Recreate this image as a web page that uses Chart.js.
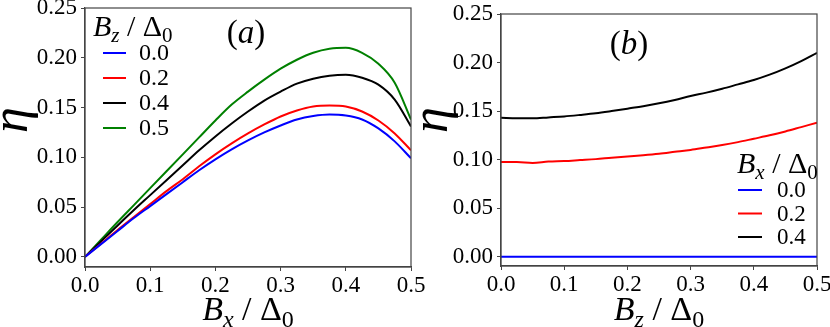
<!DOCTYPE html>
<html>
<head>
<meta charset="utf-8">
<script src="https://cdn.jsdelivr.net/npm/chart.js@4.4.1/dist/chart.umd.min.js"></script>
<style>
  html, body { margin: 0; padding: 0; background: #fff; }
  #wrap { position: relative; width: 830px; height: 327px; overflow: hidden; }
  canvas { position: absolute; top: 0; }
  #chartA { left: 0; }
  #chartB { left: 420px; }
  .pre { position: absolute; left: -999px; top: 0; font-family: "Liberation Serif"; font-size: 20px; }
</style>
</head>
<body>
<div id="wrap">
  <canvas id="chartA" width="440" height="327"></canvas>
  <canvas id="chartB" width="410" height="327"></canvas>
</div>
<span class="pre">0.25 Bx Δ</span><span class="pre" style="font-style:italic">η Bz (a)</span>
<script>
// eixos
const xTicks = [0, 0.1, 0.2, 0.3, 0.4, 0.5];
const yTicks = [0, 0.05, 0.10, 0.15, 0.20, 0.25];

// painel (a): eta vs Bx/Delta0, uma curva por Bz/Delta0
const bxA = [0, 0.025, 0.05, 0.075, 0.1, 0.125, 0.15, 0.175, 0.2, 0.225, 0.25,
             0.275, 0.3, 0.325, 0.35, 0.375, 0.4, 0.425, 0.45, 0.475, 0.5];
const rotulosA = ['0.0', '0.2', '0.4', '0.5'];
const etaA00 = [0, 0.013, 0.026, 0.039, 0.051, 0.063, 0.075, 0.087, 0.098, 0.108, 0.117,
                0.125, 0.132, 0.138, 0.1415, 0.143, 0.142, 0.138, 0.129, 0.116, 0.099];
const etaA02 = [0, 0.0135, 0.027, 0.040, 0.053, 0.066, 0.078, 0.091, 0.103, 0.114, 0.124,
                0.133, 0.141, 0.147, 0.151, 0.152, 0.151, 0.146, 0.137, 0.124, 0.107];
const etaA04 = [0, 0.0158, 0.0315, 0.047, 0.062, 0.077, 0.092, 0.107, 0.121, 0.134, 0.146,
                0.157, 0.166, 0.174, 0.179, 0.182, 0.183, 0.180, 0.173, 0.158, 0.131];
const etaA05 = [0, 0.0175, 0.035, 0.052, 0.069, 0.086, 0.103, 0.120, 0.137, 0.153, 0.166,
                0.178, 0.189, 0.198, 0.205, 0.209, 0.210, 0.205, 0.194, 0.175, 0.138];

// painel (b): eta vs Bz/Delta0, uma curva por Bx/Delta0
const bzB = [0, 0.025, 0.05, 0.075, 0.1, 0.125, 0.15, 0.175, 0.2, 0.225, 0.25,
             0.275, 0.3, 0.325, 0.35, 0.375, 0.4, 0.425, 0.45, 0.475, 0.5];
const rotulosB = ['0.0', '0.2', '0.4'];
const etaB00 = [0, 0, 0, 0, 0, 0, 0, 0, 0, 0, 0, 0, 0, 0, 0, 0, 0, 0, 0, 0, 0];
const etaB02 = [0.0975, 0.0975, 0.0965, 0.098, 0.0985, 0.0995, 0.1005, 0.102, 0.1033, 0.1045, 0.106,
                0.108, 0.110, 0.1125, 0.115, 0.118, 0.1215, 0.125, 0.129, 0.1335, 0.138];
const etaB04 = [0.143, 0.1425, 0.1425, 0.1435, 0.1445, 0.146, 0.1477, 0.150, 0.1525, 0.155, 0.158,
                0.1615, 0.1655, 0.169, 0.173, 0.1775, 0.182, 0.1875, 0.194, 0.2015, 0.210];

const cores = ['#0000ff', '#ff0000', '#000000', '#008000'];
const FONTE = '"Liberation Serif", serif';

// texto com subscritos: itens [texto, italico, subscrito]
function desenharMat(ctx, itens, x, y, tam, alinhar) {
    const fonte = it => `${it[1] ? 'italic ' : ''}${it[2] ? Math.round(tam * 0.7) : tam}px ${FONTE}`;
    let w = 0;
    itens.forEach(it => { ctx.font = fonte(it); w += ctx.measureText(it[0]).width; });
    let cx = alinhar === 'center' ? x - w / 2 : x;
    ctx.textAlign = 'left';
    ctx.textBaseline = 'alphabetic';
    itens.forEach(it => {
        ctx.font = fonte(it);
        ctx.fillText(it[0], cx, y + (it[2] ? tam * 0.2 : 0));
        cx += ctx.measureText(it[0]).width;
    });
}

function pluginDecor(cfg) {
    return {
        id: 'decor',
        afterDraw(chart) {
            const ctx = chart.ctx;
            const a = chart.chartArea;
            ctx.save();
            // moldura
            ctx.strokeStyle = '#444';
            ctx.lineWidth = 1.2;
            ctx.strokeRect(a.left, a.top, a.right - a.left, a.bottom - a.top);
            ctx.fillStyle = '#000';
            // titulo do eixo x
            desenharMat(ctx, cfg.tituloX, (a.left + a.right) / 2, 320, 34, 'center');
            // eta
            ctx.save();
            ctx.translate(cfg.etaX, 120);
            ctx.rotate(-Math.PI / 2);
            ctx.font = `italic 52px ${FONTE}`;
            ctx.textAlign = 'center';
            ctx.textBaseline = 'middle';
            ctx.fillText('η', 0, -4);
            ctx.restore();
            // rotulo do painel
            desenharMat(ctx, cfg.painel, cfg.painelX, cfg.painelY, 33, 'center');
            // legenda
            const L = cfg.legenda;
            desenharMat(ctx, cfg.tituloLeg, L.x, L.y, 30, 'left');
            chart.data.datasets.forEach((ds, i) => {
                const yy = L.y0 + i * L.passo;
                ctx.strokeStyle = ds.borderColor;
                ctx.lineWidth = 2;
                ctx.beginPath();
                ctx.moveTo(L.x + L.l0, yy);
                ctx.lineTo(L.x + L.l1, yy);
                ctx.stroke();
                ctx.fillStyle = '#000';
                ctx.font = `${L.tam}px ${FONTE}`;
                ctx.textAlign = 'left';
                ctx.textBaseline = 'middle';
                ctx.fillText(ds.label, L.x + L.tx, yy + 1);
            });
            ctx.restore();
        }
    };
}

function montarPainel(id, xs, series, rotulos, lay, cfg) {
    const datasets = series.map((s, i) => ({
        label: rotulos[i],
        data: xs.map((x, j) => ({ x: x, y: s[j] })),
        borderColor: cores[i],
        backgroundColor: cores[i],
        borderWidth: 2,
        pointRadius: 0,
        cubicInterpolationMode: 'monotone',
        fill: false
    }));
    const tickFont = { family: FONTE, size: 23 };
    return new Chart(document.getElementById(id), {
        type: 'line',
        data: { datasets: datasets },
        options: {
            responsive: false,
            animation: false,
            devicePixelRatio: 1,
            layout: { padding: { left: 0, top: lay.top, right: lay.right, bottom: 0 } },
            plugins: { legend: { display: false }, tooltip: { enabled: false } },
            scales: {
                x: {
                    type: 'linear', min: 0, max: 0.5,
                    afterBuildTicks: s => { s.ticks = xTicks.map(v => ({ value: v })); },
                    afterFit: s => { s.height = lay.xh; s.paddingLeft = 0; s.paddingRight = 0; },
                    ticks: { color: '#000', font: tickFont, padding: 1, maxRotation: 0,
                             callback: v => v.toFixed(1) },
                    grid: { drawOnChartArea: false, drawTicks: true, tickLength: 4, color: '#444' },
                    border: { display: true, color: '#444', width: 1.2 }
                },
                y: {
                    type: 'linear', min: lay.ymin, max: 0.25,
                    afterBuildTicks: s => { s.ticks = yTicks.map(v => ({ value: v })); },
                    afterFit: s => { s.width = lay.yw; s.paddingTop = 0; s.paddingBottom = 0; },
                    ticks: { color: '#000', font: tickFont, padding: 4,
                             callback: v => v.toFixed(2) },
                    grid: { drawOnChartArea: false, drawTicks: true, tickLength: 4, color: '#444' },
                    border: { display: true, color: '#444', width: 1.2 }
                }
            }
        },
        plugins: [pluginDecor(cfg)]
    });
}

function montarTudo() {
    Chart.defaults.font.family = FONTE;
    montarPainel('chartA', bxA, [etaA00, etaA02, etaA04, etaA05], rotulosA,
        { top: 8, right: 29, xh: 60, yw: 85, ymin: -0.0102 },
        {
            tituloX: [['B', true], ['x', true, true], [' / ', false], ['Δ', false], ['0', false, true]],
            etaX: 17,
            painel: [['(', false], ['a', true], [')', false]],
            painelX: 246, painelY: 43,
            tituloLeg: [['B', true], ['z', true, true], [' / ', false], ['Δ', false], ['0', false, true]],
            legenda: { x: 93, y: 36, y0: 53, passo: 25, l0: 10, l1: 33, tx: 46, tam: 24 }
        });

    montarPainel('chartB', bzB, [etaB00, etaB02, etaB04], rotulosB,
        { top: 14, right: 13, xh: 61, yw: 81, ymin: -0.0096 },
        {
            tituloX: [['B', true], ['z', true, true], [' / ', false], ['Δ', false], ['0', false, true]],
            etaX: 17,
            painel: [['(', false], ['b', true], [')', false]],
            painelX: 209, painelY: 54,
            tituloLeg: [['B', true], ['x', true, true], [' / ', false], ['Δ', false], ['0', false, true]],
            legenda: { x: 317, y: 173, y0: 190, passo: 23.5, l0: 1, l1: 25, tx: 40, tam: 23 }
        });
}

// espera a fonte serifada antes de desenhar
Promise.all([
    document.fonts.load('23px "Liberation Serif"'),
    document.fonts.load('italic 23px "Liberation Serif"')
]).then(() => setTimeout(montarTudo, 200), () => setTimeout(montarTudo, 200));
</script>
</body>
</html>
